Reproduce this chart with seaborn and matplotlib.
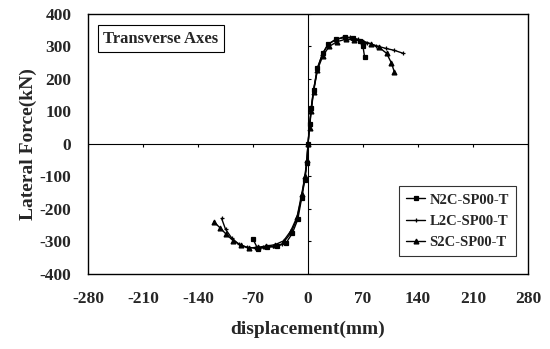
import pandas as pd
import numpy as np
import matplotlib
matplotlib.use("Agg")
import matplotlib.pyplot as plt
import seaborn as sns

# Series (displacement mm, lateral force kN)
n2c_x = [-70, -64, -52, -40, -28, -20, -13, -8, -4, -1.5, 0,
         2, 4, 7, 12, 19, 26, 36, 47, 57, 66, 70, 72]
n2c_y = [-293, -322, -318, -315, -305, -275, -232, -165, -110, -60, 0,
         60, 110, 165, 235, 280, 308, 322, 328, 325, 318, 300, 268]

l2c_x = [-110, -105, -97, -88, -78, -68, -57, -45, -33, -22, -14, -8, -4, -1.5, 0,
         2, 4, 7, 12, 18, 25, 34, 44, 54, 64, 75, 87, 99, 110, 121]
l2c_y = [-229, -262, -290, -308, -318, -320, -318, -315, -308, -275, -230, -160, -105, -55, 0,
         55, 105, 165, 230, 275, 305, 320, 328, 328, 322, 312, 302, 294, 288, 279]

s2c_x = [-120, -112, -104, -95, -85, -75, -64, -53, -42, -31, -22, -14, -8, -4, -1.5, 0,
         2, 4, 7, 12, 19, 27, 37, 48, 59, 70, 80, 90, 100, 106, 110]
s2c_y = [-239, -258, -278, -298, -312, -320, -318, -314, -310, -298, -268, -225, -155, -100, -50, 0,
         50, 100, 160, 228, 272, 300, 315, 322, 320, 315, 308, 298, 279, 250, 221]

series = ['N2C-SP00-T', 'L2C-SP00-T', 'S2C-SP00-T']
x_ticks = [-280, -210, -140, -70, 0, 70, 140, 210, 280]
y_ticks = [-400, -300, -200, -100, 0, 100, 200, 300, 400]

sns.set_style("white")
plt.rcParams['font.family'] = ['Liberation Serif', 'DejaVu Serif']
plt.rcParams['font.weight'] = 'bold'
plt.rcParams['axes.unicode_minus'] = False

fig = plt.figure(figsize=(5.5, 3.49), dpi=100)
ax = fig.add_axes([0.16, 0.215, 0.8, 0.745])

for name, xs, ys, m in zip(series, [n2c_x, l2c_x, s2c_x], [n2c_y, l2c_y, s2c_y],
                           ['s', '+', '^']):
    sns.lineplot(x=xs, y=ys, sort=False, estimator=None, color='black', lw=1.0,
                 marker=m, ms=3.5, mec='black', mfc='black', mew=0.9,
                 label=name, ax=ax)

ax.axhline(0, color='black', lw=0.8)
ax.axvline(0, color='black', lw=0.8)
ax.vlines(x_ticks, -8, 0, color='black', lw=0.8)
ax.hlines(y_ticks, 0, 4, color='black', lw=0.8)

ax.set_xlim(-280, 280)
ax.set_ylim(-400, 400)
ax.set_xticks(x_ticks)
ax.set_yticks(y_ticks)
ax.set_xticklabels([str(v) for v in x_ticks], fontweight='bold', fontsize=12.5)
ax.set_yticklabels([str(v) for v in y_ticks], fontweight='bold', fontsize=12.5)
ax.tick_params(length=0, pad=12)
for s in ax.spines.values():
    s.set_color('black')
    s.set_linewidth(1.0)

ax.set_xlabel('displacement(mm)', fontsize=14, fontweight='bold', labelpad=10)
ax.set_ylabel('Lateral Force(kN)', fontsize=14, fontweight='bold', labelpad=2)

ax.text(0.035, 0.905, 'Transverse Axes', transform=ax.transAxes, fontsize=12,
        fontweight='bold', va='center', ha='left',
        bbox=dict(boxstyle='square,pad=0.35', fc='white', ec='black', lw=0.8))

leg = ax.legend(loc='lower right', bbox_to_anchor=(0.99, 0.04),
                frameon=True, fancybox=False, edgecolor='black', handlelength=1.3,
                handletextpad=0.3, borderpad=0.5, labelspacing=0.55,
                prop={'weight': 'bold', 'size': 10.5})
leg.get_frame().set_linewidth(0.8)

fig.savefig('out.png', dpi=100)
